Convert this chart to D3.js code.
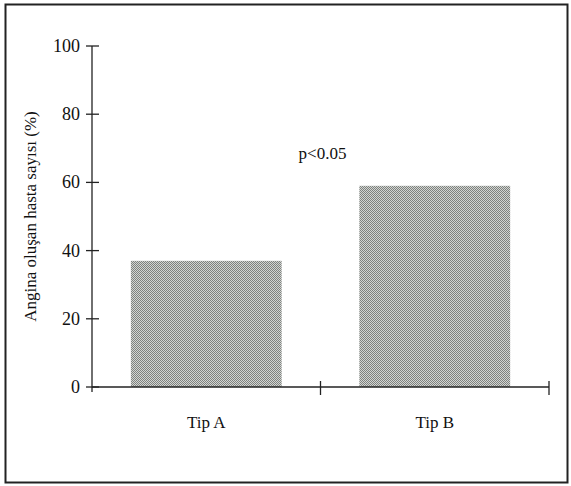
<!DOCTYPE html>
<html>
<head>
<meta charset="utf-8">
<script src="https://cdn.jsdelivr.net/npm/d3@7"></script>
<style>
  body { margin: 0; background: #fff; }
  text { font-family: "Liberation Serif", "DejaVu Serif", serif; fill: #111; }
</style>
</head>
<body>
<div id="chart"></div>
<script>
// data
var categories = ["Tip A", "Tip B"];
var values = [37, 59];
var yTicks = [0, 20, 40, 60, 80, 100];
var note = "p<0.05";
var yLabel = "Angina oluşan hasta sayısı (%)";

var W = 571, H = 486;
var m = { left: 92, right: 22, top: 46, bot: 99 };

var svg = d3.select("#chart").append("svg")
    .attr("width", W)
    .attr("height", H);

// dotted grey fill, like the printed screen
var defs = svg.append("defs");
var pat = defs.append("pattern")
    .attr("id", "dots")
    .attr("width", 2).attr("height", 2)
    .attr("patternUnits", "userSpaceOnUse");
pat.append("rect").attr("width", 2).attr("height", 2).attr("fill", "#d2d5d2");
pat.append("rect").attr("width", 1).attr("height", 1).attr("fill", "#7e817e");
pat.append("rect").attr("x", 1).attr("y", 1).attr("width", 1).attr("height", 1).attr("fill", "#7e817e");

// outer frame
svg.append("rect")
    .attr("x", 5.5).attr("y", 4.5)
    .attr("width", 562).attr("height", 478)
    .attr("fill", "none")
    .attr("stroke", "#222")
    .attr("stroke-width", 2);

var x = d3.scaleBand()
    .domain(categories)
    .range([m.left, W - m.right])
    .padding(0);

var y = d3.scaleLinear()
    .domain([0, 100])
    .range([H - m.bot, m.top]);

var barW = x.bandwidth() * 0.66;

// bars
svg.selectAll(".bar")
    .data(values)
    .enter().append("rect")
    .attr("class", "bar")
    .attr("x", function(d, i) { return x(categories[i]) + (x.bandwidth() - barW) / 2; })
    .attr("y", function(d) { return y(d); })
    .attr("width", barW)
    .attr("height", function(d) { return y(0) - y(d); })
    .attr("fill", "url(#dots)");

// y axis (ticks cross the line)
var yAxis = svg.append("g");
yAxis.append("line")
    .attr("x1", m.left).attr("x2", m.left)
    .attr("y1", y(100)).attr("y2", y(0) + 5)
    .attr("stroke", "#222").attr("stroke-width", 1.3);
yAxis.selectAll(".yt")
    .data(yTicks)
    .enter().append("line")
    .attr("x1", m.left - 6).attr("x2", m.left + 7)
    .attr("y1", function(d) { return y(d); })
    .attr("y2", function(d) { return y(d); })
    .attr("stroke", "#222").attr("stroke-width", 1.3);
yAxis.selectAll(".yl")
    .data(yTicks)
    .enter().append("text")
    .attr("x", m.left - 12)
    .attr("y", function(d) { return y(d); })
    .attr("dy", "0.33em")
    .attr("text-anchor", "end")
    .attr("font-size", 18)
    .text(function(d) { return d; });

// x axis with tick marks at category borders
var xAxis = svg.append("g");
xAxis.append("line")
    .attr("x1", m.left).attr("x2", W - m.right)
    .attr("y1", y(0)).attr("y2", y(0))
    .attr("stroke", "#222").attr("stroke-width", 1.5);
xAxis.selectAll(".xt")
    .data(categories)
    .enter().append("line")
    .attr("x1", function(d) { return x(d) + x.bandwidth(); })
    .attr("x2", function(d) { return x(d) + x.bandwidth(); })
    .attr("y1", y(0) - 6).attr("y2", y(0) + 8)
    .attr("stroke", "#222").attr("stroke-width", 1.3);
xAxis.selectAll(".xl")
    .data(categories)
    .enter().append("text")
    .attr("x", function(d) { return x(d) + x.bandwidth() / 2; })
    .attr("y", y(0) + 41)
    .attr("text-anchor", "middle")
    .attr("font-size", 17)
    .text(function(d) { return d; });

// y label
svg.append("text")
    .attr("transform", "translate(36," + (y(50)) + ") rotate(-90)")
    .attr("text-anchor", "middle")
    .attr("font-size", 17)
    .text(yLabel);

// significance note
svg.append("text")
    .attr("x", x(categories[1]) + 2)
    .attr("y", y(67))
    .attr("text-anchor", "middle")
    .attr("font-size", 17)
    .text(note);
</script>
</body>
</html>
